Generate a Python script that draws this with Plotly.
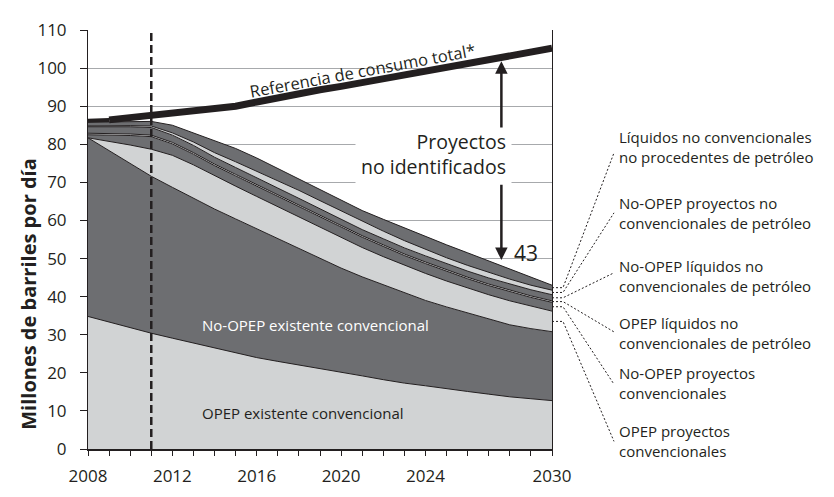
import plotly.graph_objects as go

# ---------------- data ----------------
years = list(range(2008, 2031))

opep_existente_conv = [34.8, 33.3, 31.8, 30.4, 29.1, 27.8, 26.6, 25.3, 24.0, 23.0, 22.0, 21.1,
                       20.2, 19.2, 18.2, 17.3, 16.6, 15.8, 15.1, 14.4, 13.7, 13.2, 12.7]
no_opep_existente_conv = [46.9, 45.0, 43.2, 41.2, 39.6, 38.0, 36.4, 35.1, 33.8, 32.2, 30.6, 29.0,
                          27.3, 26.0, 24.9, 23.7, 22.4, 21.5, 20.6, 19.8, 18.9, 18.4, 18.1]
opep_proyectos_conv = [0.0, 2.5, 4.8, 7.1, 8.4, 8.8, 8.7, 8.6, 8.5, 8.4, 8.3, 8.1,
                       8.0, 7.7, 7.4, 7.2, 7.1, 6.8, 6.5, 6.3, 6.3, 5.9, 5.4]
no_opep_proyectos_conv = [0.8, 1.6, 2.5, 3.3, 3.0, 2.8, 2.7, 2.7, 2.7, 2.8, 2.8, 2.8,
                          2.8, 2.7, 2.7, 2.6, 2.6, 2.5, 2.5, 2.4, 2.4, 2.3, 2.3]
opep_liq_no_conv = [0.4, 0.4, 0.4, 0.4, 0.4, 0.4, 0.4, 0.4, 0.4, 0.4, 0.4, 0.4,
                    0.4, 0.4, 0.4, 0.4, 0.4, 0.4, 0.4, 0.4, 0.4, 0.4, 0.4]
no_opep_liq_no_conv = [1.7, 1.8, 1.9, 2.0, 1.9, 1.9, 1.8, 1.8, 1.7, 1.7, 1.7, 1.6,
                       1.6, 1.6, 1.6, 1.6, 1.6, 1.6, 1.6, 1.6, 1.6, 1.6, 1.6]
no_opep_proy_no_conv = [0.2, 0.3, 0.3, 0.4, 0.6, 0.9, 1.2, 1.5, 1.8, 2.0, 2.1, 2.2,
                        2.2, 2.1, 2.0, 1.9, 1.7, 1.6, 1.5, 1.4, 1.3, 1.2, 1.2]
liq_no_petroleo = [1.0, 1.0, 1.1, 1.2, 2.0, 2.4, 3.1, 3.5, 3.5, 3.1, 2.9, 2.8,
                   2.7, 2.9, 3.1, 3.3, 3.4, 3.4, 3.3, 3.1, 2.6, 2.1, 1.3]
consumo_total = [86.2, 86.4, 87.0, 87.6, 88.2, 88.7, 89.3, 90.0, 91.1, 92.3, 93.3, 94.3,
                 95.2, 96.2, 97.1, 98.1, 99.1, 100.1, 101.1, 102.1, 103.2, 104.2, 105.2]

x_tick_text = ["2008", "", "", "", "2012", "", "", "", "2016", "", "", "", "2020", "", "", "",
               "2024", "", "", "", "", "", "2030"]
y_tick_vals = [0, 10, 20, 30, 40, 50, 60, 70, 80, 90, 100, 110]

layer_names = [
    "OPEP existente convencional",
    "No-OPEP existente convencional",
    "OPEP proyectos convencionales",
    "No-OPEP proyectos convencionales",
    "OPEP líquidos no convencionales de petróleo",
    "No-OPEP líquidos no convencionales de petróleo",
    "No-OPEP proyectos no convencionales de petróleo",
    "Líquidos no convencionales no procedentes de petróleo",
]
layer_values = [opep_existente_conv, no_opep_existente_conv, opep_proyectos_conv,
                no_opep_proyectos_conv, opep_liq_no_conv, no_opep_liq_no_conv,
                no_opep_proy_no_conv, liq_no_petroleo]

side_labels = [
    "OPEP proyectos<br>convencionales",
    "No-OPEP proyectos<br>convencionales",
    "OPEP líquidos no<br>convencionales de petróleo",
    "No-OPEP líquidos no<br>convencionales de petróleo",
    "No-OPEP proyectos no<br>convencionales de petróleo",
    "Líquidos no convencionales<br>no procedentes de petróleo",
]

# ---------------- style ----------------
LIGHT = "#d1d3d4"
DARK = "#6d6e71"
INK = "#231f20"
FONT = "Open Sans"
fills = [LIGHT, DARK, LIGHT, DARK, LIGHT, DARK, LIGHT, DARK]

# page offset (default 8px body margin of the html page)
OFF = 8
SW, SH = 834, 497            # screenshot size
PL, PR, PT, PB = 88, 552, 18, 458  # plot area in screenshot pixels
W, H = SW - OFF, SH - OFF


def px_x(px):
    return (px - PL) / (PR - PL)


def px_y(py):
    return (PB - py) / (PB - PT)


def data_y_to_px(v):
    return PB - v * (PB - PT) / 110.0


fig = go.Figure()

for name, vals, col in zip(layer_names, layer_values, fills):
    fig.add_trace(go.Scatter(
        x=years, y=vals, name=name, stackgroup="one", mode="lines",
        line=dict(color=INK, width=1), fillcolor=col, hoverinfo="skip"))

# consumption reference line
fig.add_trace(go.Scatter(x=years[:2], y=consumo_total[:2], mode="lines",
                         line=dict(color=INK, width=4), hoverinfo="skip"))
fig.add_trace(go.Scatter(x=years[1:], y=consumo_total[1:], mode="lines",
                         line=dict(color=INK, width=7), hoverinfo="skip"))

shapes = []
shapes.append(dict(type="line", xref="x", yref="y", x0=2011, x1=2011, y0=0, y1=110,
                   line=dict(color=INK, width=2.5, dash="8px,4px"), layer="above"))

cum = []
run = [0.0] * len(years)
for vals in layer_values:
    lo = run[-1]
    run = [a + b for a, b in zip(run, vals)]
    cum.append((lo, run[-1]))
label_end_y = [450, 390, 335, 273, 210, 147]
for k, (lo, hi) in enumerate(cum[2:]):
    ym = data_y_to_px((lo + hi) / 2)
    ye = label_end_y[k]
    path = "M {:.4f},{:.4f} L {:.4f},{:.4f} L {:.4f},{:.4f}".format(
        px_x(PR), px_y(ym), px_x(563), px_y(ym), px_x(614), px_y(ye))
    shapes.append(dict(type="path", xref="paper", yref="paper", path=path,
                       line=dict(color=INK, width=1, dash="2px,2px")))

annotations = []
label_center_y = [450, 389, 336, 276, 210, 141]
for txt, yc in zip(side_labels, label_center_y):
    annotations.append(dict(xref="paper", yref="paper", x=px_x(617), y=px_y(yc),
                            xanchor="left", yanchor="middle", align="left", showarrow=False,
                            text=txt, font=dict(family=FONT, size=15, color=INK)))

annotations.append(dict(xref="paper", yref="paper", x=px_x(29), y=px_y(295),
                        xanchor="center", yanchor="middle",
                        text="<b>Millones de barriles por día</b>", textangle=-90,
                        showarrow=False, font=dict(family=FONT, size=20, color=INK)))
annotations.append(dict(xref="x", yref="y", x=2021.0, y=99.4, text="Referencia de consumo total*",
                        textangle=-10.5, showarrow=False,
                        font=dict(family=FONT, size=16.5, color=INK)))
annotations.append(dict(xref="paper", yref="paper", x=px_x(512), y=px_y(148),
                        xanchor="right", yanchor="middle", align="right",
                        text="Proyectos<br>no identificados",
                        showarrow=False, bgcolor="white", borderpad=5,
                        font=dict(family=FONT, size=19.5, color=INK)))
annotations.append(dict(xref="x", yref="y", x=2027.6, y=101.8, ax=2027.6, ay=84.0,
                        axref="x", ayref="y", text="", showarrow=True, arrowhead=2,
                        arrowsize=1, arrowwidth=2.5, arrowcolor=INK, standoff=0))
annotations.append(dict(xref="x", yref="y", x=2027.6, y=49.6, ax=2027.6, ay=69.8,
                        axref="x", ayref="y", text="", showarrow=True, arrowhead=2,
                        arrowsize=1, arrowwidth=2.5, arrowcolor=INK, standoff=0))
annotations.append(dict(xref="x", yref="y", x=2028.76, y=51.5, text="43", showarrow=False,
                        font=dict(family=FONT, size=21, color=INK)))
annotations.append(dict(xref="x", yref="y", x=2013.31, y=32.5, xanchor="left",
                        text="No-OPEP existente convencional", showarrow=False,
                        font=dict(family=FONT, size=15, color="white")))
annotations.append(dict(xref="x", yref="y", x=2013.31, y=9.5, xanchor="left",
                        text="OPEP existente convencional", showarrow=False,
                        font=dict(family=FONT, size=15, color=INK)))

fig.update_layout(
    width=W, height=H, autosize=False,
    margin=dict(l=PL - OFF, r=SW - PR, t=PT - OFF, b=SH - PB, pad=0),
    paper_bgcolor="white", plot_bgcolor="white",
    showlegend=False,
    shapes=shapes, annotations=annotations,
    font=dict(family=FONT, color=INK),
)
fig.update_xaxes(range=[2008, 2030], tickvals=years, ticktext=x_tick_text,
                 ticks="outside", ticklen=5, tickwidth=1, tickcolor=INK, ticklabelstandoff=6,
                 ticklabeloverflow="allow",
                 showline=True, linecolor=INK, linewidth=1.5, showgrid=False, zeroline=False,
                 tickfont=dict(family=FONT, size=17, color=INK))
fig.update_yaxes(range=[0, 110], tickvals=y_tick_vals, ticks="outside", ticklen=7,
                 tickwidth=1, tickcolor=INK, ticklabelstandoff=10, ticklabeloverflow="allow",
                 showline=True, mirror=True,
                 linecolor=INK, linewidth=1, showgrid=True, gridcolor="#a7a9ac", gridwidth=1,
                 zeroline=False, tickfont=dict(family=FONT, size=17, color=INK))

fig.write_html("out.html")
